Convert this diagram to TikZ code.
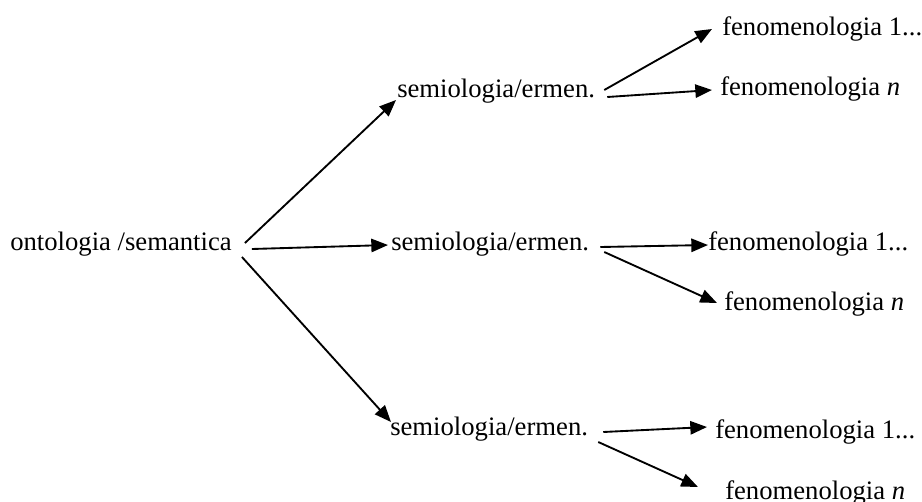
\documentclass[tikz,border=0pt]{standalone}
\usepackage{fontspec}
\setmainfont{Liberation Serif}
\usepackage{tikz}
\usetikzlibrary{arrows.meta}

\begin{document}
\begin{tikzpicture}[x=0.75pt, y=-0.75pt,
  every node/.style={inner sep=0pt, anchor=base west, font=\fontsize{20}{24}\selectfont},
  arr/.style={line width=1.4pt, -{Triangle[length=12.5pt, width=10pt]}}]
\useasboundingbox (0,0) rectangle (922,501);
\node (root) at (10,250) {ontologia /semantica};
\node (s1) at (397,97) {semiologia/ermen.};
\node (s2) at (391,250) {semiologia/ermen.};
\node (s3) at (390,435) {semiologia/ermen.};
\node (f1a) at (722,35) {fenomenologia 1...};
\node (f1b) at (720,95) {fenomenologia \textit{n}};
\node (f2a) at (708,250) {fenomenologia 1...};
\node (f2b) at (724,310) {fenomenologia \textit{n}};
\node (f3a) at (715,438) {fenomenologia 1...};
\node (f3b) at (725,499) {fenomenologia \textit{n}};
% ontologia -> semiologia
\draw[arr] ([shift={(13,-7)}]root.base east) -- ([shift={(-1,3)}]s1.base west);
\draw[arr] ([shift={(20,-1)}]root.base east) -- ([shift={(-3,-5)}]s2.base west);
\draw[arr] ([shift={(10,7)}]root.base east) -- ([shift={(1,-13)}]s3.base west);
% semiologia -> fenomenologia
\draw[arr] ([shift={(9,-7)}]s1.base east) -- ([shift={(-10,-6)}]f1a.base west);
\draw[arr] ([shift={(12,0)}]s1.base east) -- ([shift={(-8,-5)}]f1b.base west);
\draw[arr] ([shift={(11,-3)}]s2.base east) -- ([shift={(0,-5)}]f2a.base west);
\draw[arr] ([shift={(15,2)}]s2.base east) -- ([shift={(-7,-7)}]f2b.base west);
\draw[arr] ([shift={(15,-3)}]s3.base east) -- ([shift={(-8,-11)}]f3a.base west);
\draw[arr] ([shift={(10,7)}]s3.base east) -- ([shift={(-27,-12)}]f3b.base west);
\end{tikzpicture}
\end{document}
